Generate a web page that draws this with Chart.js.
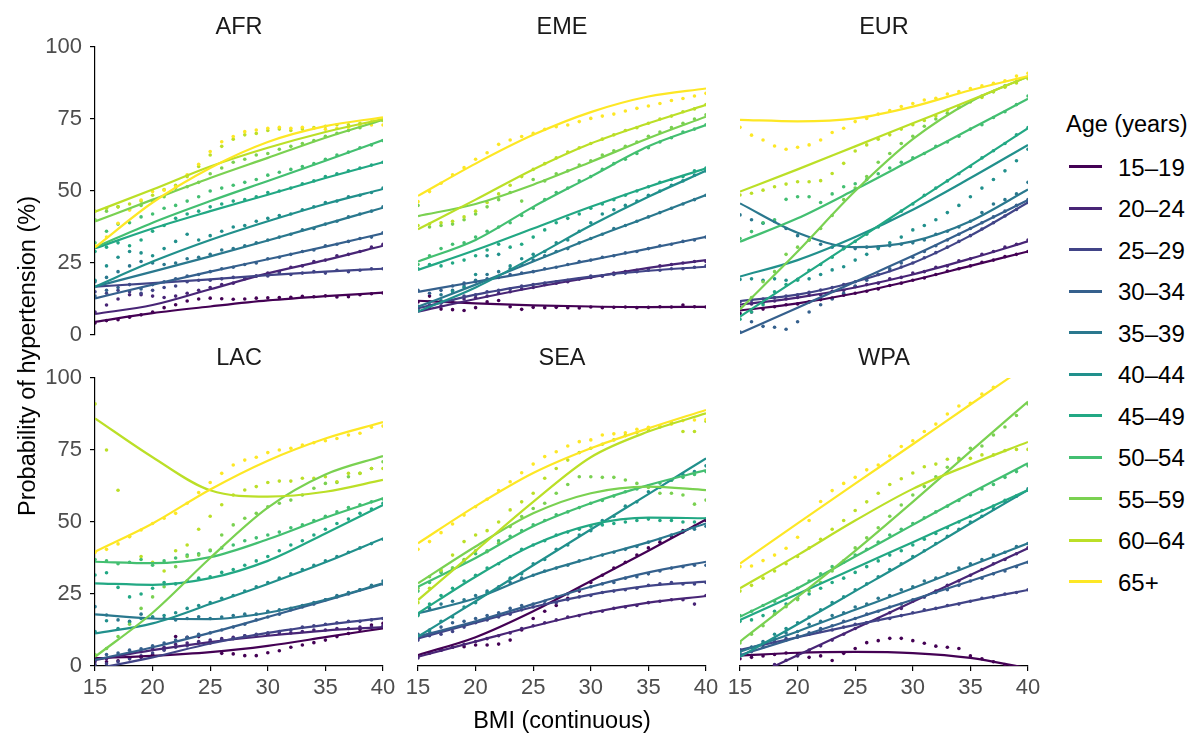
<!DOCTYPE html>
<html>
<head>
<meta charset="utf-8">
<script src="https://cdn.jsdelivr.net/npm/chart.js@4.4.0/dist/chart.umd.min.js"></script>
<style>
  body { margin: 0; background: #fff; width: 1192px; height: 734px; position: relative; overflow: hidden;
         font-family: "Liberation Sans", Arial, Helvetica, sans-serif; }
  canvas { position: absolute; }
  .strip { position: absolute; width: 288px; text-align: center; font-size: 23.5px; line-height: 24px; color: #1a1a1a; }
  .title { position: absolute; font-size: 23.5px; line-height: 24px; color: #000; white-space: nowrap; }
  .key { position: absolute; left: 1069px; width: 33px; height: 3px; }
  .keylab { position: absolute; left: 1118px; font-size: 24px; line-height: 24px; color: #000; }
</style>
</head>
<body>
<script>
// facets and groups
const regions = ['AFR', 'EME', 'EUR', 'LAC', 'SEA', 'WPA'];
const ageGroups = ['15–19', '20–24', '25–29', '30–34', '35–39', '40–44', '45–49', '50–54', '55–59', '60–64', '65+'];
const ageColors = ['#440154', '#482576', '#414487', '#35608D', '#2A788E', '#21908C',
                   '#22A884', '#43BF71', '#7AD151', '#BBDF27', '#FDE725'];

const xTicks = [15, 20, 25, 30, 35, 40];
const yTicks = [0, 25, 50, 75, 100];

// BMI values where the fitted curves were read, and where the observed points sit
const fitBmi = [15, 20, 25, 30, 35, 40];
const dotBmi = [15, 16, 17, 18, 19, 20, 21, 22, 23, 24, 25, 26, 27, 28, 29, 30, 31, 32, 33, 34, 35, 36, 37, 38, 39, 40];

// fitted probability (%) per age group, one row per group
const afrFit = [
  [4.6, 7.6, 9.9, 12, 13.5, 14.7],
  [7.3, 10.4, 15.9, 21.4, 26, 31],
  [16.8, 18, 19.3, 20.8, 22, 23],
  [12.7, 17.5, 22, 26.3, 30.7, 35.3],
  [16.8, 22, 27.3, 32.8, 38.5, 44.2],
  [16.8, 25.5, 33, 39.5, 45.5, 50.7],
  [30.1, 37, 43, 48.7, 54.5, 60],
  [30.4, 39, 46.5, 53.5, 60.5, 67.7],
  [39.4, 47, 54.5, 61.5, 68.5, 74.7],
  [42.8, 50.5, 58.5, 65, 70.5, 75],
  [30.4, 46, 58, 67, 72.5, 75.6]
];
const emeFit = [
  [11.9, 11, 10.3, 9.9, 9.7, 9.8],
  [8.1, 12.5, 16.5, 20, 23.3, 26],
  [9.3, 14, 17.5, 20.3, 22.3, 23.7],
  [15, 18.5, 22, 26, 30, 34.1],
  [9.8, 17.5, 25.5, 33.5, 41, 48.6],
  [8.1, 16.5, 27, 38, 48, 57],
  [22.6, 29.5, 37, 44.5, 51.5, 57.9],
  [25.5, 33, 44.5, 55, 65.5, 72.9],
  [41.3, 45.5, 52.2, 60.1, 68.3, 75.8],
  [36.7, 47, 57.5, 66.5, 73.5, 79.9],
  [48.3, 59.5, 69.5, 77.4, 82.8, 85.6]
];
const eurFit = [
  [8.5, 11, 14.5, 19, 24, 29],
  [10.5, 13, 16.5, 21, 26.5, 32.5],
  [11.8, 14, 18.5, 25, 34.5, 46],
  [0.6, 9.5, 18.5, 27.5, 37, 46.9],
  [45.7, 35.5, 30.5, 32.5, 39.5, 50.5],
  [20.3, 26, 34, 43.5, 54.5, 66],
  [6.4, 19.5, 32.6, 45.7, 58.8, 71.8],
  [32.4, 40.5, 50.5, 61, 71.5, 82],
  [8.9, 29, 50, 68, 81, 89.7],
  [49.8, 57.5, 65.5, 73.5, 81.5, 89.7],
  [74.7, 74.2, 75.2, 79.3, 85, 89.9]
];
const lacFit = [
  [2.7, 3.5, 4.8, 7, 10, 13.1],
  [2.1, 5.5, 8.3, 10.5, 12.3, 13.5],
  [-1, 3, 7.8, 11.5, 14.3, 16.6],
  [2.1, 6.5, 11.5, 17, 22.7, 28.5],
  [17.9, 16.5, 16.3, 18.5, 23, 28.7],
  [11.3, 14.8, 21.5, 28.5, 36, 44.3],
  [28.7, 28.2, 30.5, 36.5, 46, 55.9],
  [36.2, 35.7, 37.8, 44, 51.5, 58.2],
  [3.2, 18.5, 37.5, 55, 66.5, 72.9],
  [86, 72.5, 61, 58.8, 60.5, 64.6],
  [39.7, 49.5, 61.3, 71.3, 79, 84.7]
];
const seaFit = [
  [3.8, 10, 19, 29.5, 40, 50.9],
  [3.2, 8.5, 13.8, 18.5, 22, 24.3],
  [9.6, 15, 20.5, 24.8, 27.8, 29.3],
  [10.2, 15.5, 21.5, 27.5, 32.5, 36.2],
  [18.3, 23.5, 31.5, 37.5, 43, 49.5],
  [10.2, 22.5, 35, 47.4, 59.7, 72.1],
  [18.3, 31, 42, 49, 51.5, 51.3],
  [27.5, 37.5, 48.5, 56.5, 62.8, 68],
  [28.7, 41.5, 53, 60, 62.3, 61.1],
  [22.9, 40, 57, 72.5, 81.4, 87.7],
  [42.6, 55.5, 67, 75.6, 82.5, 88.9]
];
const wpaFit = [
  [3.6, 4.6, 4.9, 4.5, 2.8, -0.8],
  [-5.6, 3.7, 13, 22.3, 31.6, 40.9],
  [5.6, 10, 14.3, 18.3, 22.5, 26.4],
  [3.8, 10, 16.5, 23, 29.5, 36.2],
  [5, 12, 19.5, 27, 34.8, 42.6],
  [3.2, 14.5, 26, 37.5, 49.5, 61.1],
  [16, 25, 34, 43, 52, 61.1],
  [17.1, 27, 38, 49, 60, 70.4],
  [8.5, 24, 40, 57, 74.5, 91.8],
  [27, 38.5, 50.5, 61.5, 70, 77.8],
  [35.6, 49.5, 63.3, 77, 90.8, 104.5]
];

// observed probability (%) at each integer BMI
const afrDots = [
  [4.2, 5.0, 5.3, 6.2, 7.0, 8.0, 9.5, 10.5, 11.8, 12.5, 12.8, 12.6, 12.4, 12.5, 12.8, 12.9, 13.0, 13.1, 13.4, 13.3, 13.6, 13.2, 13.3, 14.0, 14.3, 14.6],
  [8.0, 10.4, 12.5, 14.0, 14.0, 13.5, 13.0, 13.5, 14.5, 15.5, 16.5, 17.5, 18.0, 19.5, 20.5, 21.5, 22.0, 23.5, 24.0, 25.5, 26.0, 27.5, 28.0, 29.0, 30.5, 31.5],
  [15.0, 14.5, 15.5, 15.0, 14.5, 15.5, 16.5, 17.0, 18.5, 19.0, 19.0, 19.5, 20.0, 19.8, 20.5, 20.5, 21.5, 21.0, 21.5, 22.0, 21.5, 22.5, 22.0, 22.5, 23.0, 23.0],
  [13.5, 15.5, 16.5, 17.5, 16.0, 17.5, 18.5, 19.5, 20.5, 21.0, 22.0, 23.0, 23.5, 24.5, 25.0, 26.5, 27.0, 28.0, 29.0, 29.5, 31.0, 31.5, 32.5, 33.5, 34.0, 35.5],
  [18.5, 20.0, 22.0, 24.0, 25.5, 25.0, 24.5, 25.0, 26.5, 27.0, 28.0, 29.5, 30.0, 31.0, 32.0, 33.0, 34.0, 35.0, 36.5, 37.0, 38.5, 39.5, 41.0, 42.0, 43.0, 44.5],
  [19.0, 24.0, 27.0, 29.0, 28.5, 27.5, 30.0, 32.5, 35.0, 33.0, 34.5, 36.0, 37.5, 38.0, 39.5, 40.5, 41.5, 42.0, 43.5, 44.5, 46.0, 46.5, 48.0, 48.5, 49.5, 51.0],
  [29.0, 30.5, 32.0, 31.0, 33.0, 36.0, 38.0, 40.5, 42.0, 43.0, 44.5, 45.5, 46.5, 47.0, 48.0, 49.5, 50.0, 51.0, 52.5, 53.5, 55.0, 56.0, 57.0, 58.0, 59.0, 60.0],
  [32.0, 36.0, 38.5, 39.0, 41.0, 42.0, 44.0, 45.0, 46.5, 48.0, 50.0, 51.0, 52.0, 53.0, 54.0, 55.5, 56.5, 57.5, 58.5, 59.5, 61.0, 62.5, 63.5, 65.0, 66.0, 67.5],
  [40.0, 43.0, 44.5, 43.5, 45.0, 46.5, 48.0, 51.0, 51.5, 53.0, 56.0, 58.0, 60.0, 61.0, 62.5, 63.0, 64.5, 65.5, 66.5, 67.5, 69.0, 70.0, 71.0, 72.0, 73.5, 74.5],
  [43.0, 44.0, 44.5, 45.5, 46.5, 48.5, 50.5, 52.0, 55.0, 58.5, 62.5, 65.5, 68.0, 69.5, 70.0, 71.0, 71.5, 71.0, 71.5, 72.0, 72.5, 73.0, 73.0, 73.5, 74.0, 74.5],
  [31.0, 34.0, 38.8, 43.4, 46.9, 49.8, 50.3, 51.5, 55.6, 59.3, 63.7, 67.1, 68.9, 70.6, 71.2, 71.8, 72.1, 71.8, 72.1, 71.8, 71.4, 71.8, 72.1, 72.6, 72.9, 72.9]
];
const emeDots = [
  [11.5, 13.5, 9.0, 8.8, 8.5, 9.5, 11.5, 12.0, 9.8, 8.9, 9.6, 9.5, 9.6, 9.5, 9.4, 9.7, 9.5, 9.6, 9.7, 9.5, 9.6, 9.8, 9.7, 10.4, 9.8, 9.7],
  [8.5, 9.5, 10.0, 11.5, 12.5, 13.0, 13.5, 14.5, 15.0, 16.0, 16.5, 17.5, 18.0, 18.5, 19.5, 20.0, 20.5, 21.5, 22.0, 22.5, 23.0, 24.0, 24.5, 25.0, 25.5, 25.5],
  [9.0, 10.5, 11.0, 12.0, 13.5, 14.0, 15.0, 15.5, 16.0, 17.0, 17.5, 18.0, 18.5, 19.0, 19.5, 20.5, 20.5, 21.0, 21.5, 22.0, 22.5, 22.5, 23.0, 23.0, 23.5, 24.0],
  [15.5, 14.5, 15.5, 17.0, 18.0, 18.5, 19.5, 20.0, 21.0, 21.5, 22.0, 23.0, 23.5, 24.5, 25.5, 26.0, 27.0, 27.5, 28.5, 29.0, 30.0, 31.0, 31.5, 32.5, 33.0, 34.0],
  [10.0, 11.5, 14.0, 15.5, 17.0, 19.0, 21.0, 22.0, 23.0, 24.5, 26.0, 27.5, 29.0, 30.0, 32.0, 33.5, 35.0, 37.0, 38.0, 39.5, 41.0, 42.5, 44.0, 45.5, 47.0, 48.5],
  [8.5, 10.0, 12.0, 15.0, 16.5, 21.0, 27.5, 28.0, 24.0, 26.5, 28.0, 29.0, 32.0, 33.0, 36.0, 39.0, 42.0, 43.5, 45.0, 46.5, 48.5, 50.0, 52.0, 53.5, 55.5, 57.0],
  [23.0, 24.5, 24.0, 25.0, 26.0, 27.5, 29.5, 31.5, 30.5, 31.5, 34.0, 36.5, 39.0, 40.5, 42.0, 44.0, 45.5, 47.0, 48.5, 50.0, 51.5, 53.0, 54.0, 55.0, 57.0, 58.0],
  [24.5, 27.5, 30.0, 31.5, 32.0, 34.0, 36.0, 37.5, 39.0, 41.5, 44.0, 47.0, 49.5, 51.0, 53.5, 55.0, 57.5, 59.5, 61.0, 63.0, 65.0, 67.0, 68.5, 70.5, 71.5, 73.0],
  [45.0, 37.5, 38.0, 38.5, 40.0, 42.0, 44.5, 47.0, 49.5, 46.5, 54.0, 53.5, 56.0, 57.0, 59.0, 60.5, 62.5, 64.0, 65.5, 67.0, 69.0, 70.5, 72.0, 73.5, 75.0, 76.5],
  [38.0, 38.5, 39.0, 39.5, 41.0, 43.0, 46.0, 49.0, 52.0, 55.0, 57.5, 59.5, 61.5, 63.5, 65.0, 66.5, 68.0, 69.5, 71.0, 72.0, 73.5, 75.0, 76.0, 77.5, 78.5, 80.0],
  [46.3, 49.8, 52.7, 55.6, 58.1, 61.0, 63.3, 66.2, 67.7, 68.9, 70.0, 71.4, 72.3, 72.9, 74.1, 75.2, 76.0, 76.7, 77.8, 78.7, 79.5, 80.4, 81.4, 82.1, 83.0, 83.9]
];
const eurDots = [
  [7.5, 8.0, 9.0, 9.8, 10.5, 10.8, 11.5, 12.3, 12.8, 13.8, 14.5, 15.2, 16.0, 17.2, 18.0, 19.0, 19.8, 21.0, 22.2, 23.0, 24.0, 25.2, 26.0, 27.2, 28.0, 29.0],
  [9.5, 10.8, 11.2, 11.8, 12.5, 13.0, 13.8, 14.0, 15.2, 15.5, 16.8, 17.5, 18.0, 19.5, 20.0, 21.5, 22.0, 23.5, 24.0, 25.8, 26.5, 28.0, 29.0, 30.5, 31.5, 33.0],
  [11.5, 12.0, 12.5, 13.0, 13.5, 14.0, 14.8, 15.6, 16.5, 17.5, 18.5, 19.7, 21.0, 22.3, 23.6, 25.0, 26.8, 28.6, 30.5, 32.5, 34.5, 36.8, 39.0, 41.3, 43.6, 46.0],
  [1.0, 4.6, 3.0, 2.7, 2.0, 4.6, 8.0, 10.5, 12.5, 14.5, 17.0, 19.0, 21.0, 23.0, 25.0, 27.0, 29.0, 31.0, 33.0, 35.0, 37.0, 39.0, 41.0, 43.0, 45.0, 47.0],
  [41.7, 40.0, 38.8, 39.4, 37.0, 34.5, 33.0, 31.5, 30.5, 30.0, 30.0, 30.5, 30.5, 31.0, 31.5, 32.0, 33.0, 35.0, 36.0, 37.5, 39.5, 42.5, 45.5, 47.0, 49.0, 53.0],
  [19.3, 19.5, 19.0, 19.5, 19.0, 19.3, 19.5, 21.0, 22.6, 23.7, 26.0, 28.0, 30.0, 32.0, 34.0, 36.5, 38.0, 40.0, 42.5, 45.0, 48.0, 51.0, 54.0, 57.0, 60.5, 64.5],
  [5.5, 8.0, 10.5, 15.0, 17.5, 19.0, 22.5, 24.5, 27.0, 30.0, 32.5, 35.0, 37.5, 40.0, 43.0, 45.5, 48.5, 51.0, 53.5, 56.0, 58.5, 61.5, 64.0, 66.5, 69.5, 72.0],
  [33.5, 35.9, 39.0, 40.0, 47.1, 48.0, 48.0, 46.0, 49.0, 51.5, 52.5, 54.0, 56.0, 58.0, 60.0, 61.5, 63.0, 65.5, 67.0, 69.0, 71.5, 73.0, 75.5, 77.5, 80.0, 83.0],
  [9.0, 13.0, 18.5, 22.0, 28.0, 30.5, 33.0, 37.0, 41.5, 47.0, 51.0, 55.0, 60.0, 63.0, 66.5, 69.0, 72.5, 75.0, 77.0, 79.0, 81.0, 83.0, 84.5, 86.5, 88.0, 89.5],
  [48.6, 49.2, 50.3, 51.5, 52.4, 53.2, 53.2, 53.6, 56.1, 59.6, 63.9, 66.0, 68.0, 69.5, 71.5, 73.0, 74.5, 76.0, 78.0, 79.5, 81.0, 82.5, 84.5, 86.0, 87.5, 89.0],
  [72.1, 69.4, 67.7, 65.6, 64.5, 65.2, 66.0, 67.7, 70.3, 71.8, 74.1, 75.2, 76.7, 77.9, 79.3, 80.4, 81.6, 82.2, 83.7, 84.5, 85.6, 86.5, 87.4, 88.3, 89.9, 90.9]
];
const lacDots = [
  [2.0, 1.5, 1.8, 2.5, 3.0, 4.0, 6.0, 10.2, 10.0, 10.2, 8.0, 4.4, 4.2, 3.6, 3.6, 4.6, 5.3, 6.5, 7.3, 8.1, 9.0, 10.2, 11.3, 12.7, 14.2, 14.8],
  [1.5, 2.5, 3.5, 4.5, 5.0, 6.0, 6.5, 7.5, 8.0, 8.5, 9.0, 9.5, 10.0, 10.5, 10.5, 11.0, 11.5, 11.5, 12.0, 12.5, 12.5, 13.0, 13.0, 13.5, 13.5, 14.0],
  [0.5, 0.8, 1.5, 2.5, 3.5, 4.5, 5.5, 6.5, 7.0, 8.0, 8.5, 9.0, 9.5, 10.5, 11.0, 11.5, 12.0, 12.5, 13.5, 14.0, 14.5, 15.0, 15.5, 15.5, 16.0, 16.5],
  [2.5, 4.0, 4.5, 5.5, 6.0, 7.0, 8.0, 9.0, 10.0, 11.0, 11.5, 12.5, 13.5, 14.5, 16.0, 17.0, 18.0, 19.5, 20.5, 21.5, 23.0, 24.0, 25.0, 26.5, 27.5, 28.5],
  [20.6, 17.7, 16.0, 15.5, 18.0, 17.0, 16.5, 16.0, 16.5, 17.1, 16.5, 17.0, 17.5, 18.0, 18.0, 19.0, 19.5, 20.0, 21.0, 22.0, 23.0, 24.5, 25.5, 26.5, 28.0, 29.5],
  [12.0, 15.7, 13.0, 15.0, 16.5, 17.0, 17.5, 18.5, 20.0, 21.0, 22.0, 23.5, 24.5, 26.0, 27.5, 29.0, 30.5, 32.0, 33.5, 35.0, 36.5, 38.0, 39.5, 41.0, 42.5, 44.0],
  [31.6, 32.4, 27.3, 24.0, 25.0, 27.0, 29.0, 28.5, 29.5, 30.5, 31.0, 32.5, 33.5, 35.0, 36.5, 38.0, 40.0, 42.0, 43.5, 45.5, 47.5, 49.5, 51.0, 53.0, 54.5, 56.5],
  [37.0, 36.5, 35.5, 36.0, 37.0, 35.0, 36.5, 37.5, 38.5, 39.0, 40.0, 41.0, 42.0, 43.5, 44.5, 45.5, 46.5, 48.0, 49.0, 50.5, 52.0, 53.5, 55.0, 56.0, 57.0, 58.0],
  [4.0, 6.1, 10.2, 14.5, 20.0, 24.0, 27.5, 34.5, 38.0, 38.5, 40.3, 45.5, 49.0, 51.3, 53.0, 55.3, 56.5, 57.6, 59.4, 61.7, 63.4, 63.7, 65.7, 66.9, 68.6, 70.9],
  [91.0, 75.0, 61.0, 45.0, 38.0, 36.0, 33.0, 40.0, 42.0, 47.5, 52.0, 56.0, 59.4, 61.1, 62.3, 63.7, 64.2, 64.2, 65.2, 65.2, 65.7, 64.0, 66.9, 66.9, 68.6, 68.6],
  [39.4, 40.5, 42.4, 44.9, 47.2, 49.5, 51.3, 53.0, 56.5, 60.2, 63.7, 66.9, 69.8, 71.5, 72.5, 74.1, 75.0, 75.6, 76.7, 77.5, 78.2, 79.0, 80.2, 80.8, 82.9, 83.3]
];
const seaDots = [
  [3.5, 4.5, 5.5, 6.5, 6.7, 7.3, 7.3, 7.6, 9.0, 12.5, 16.5, 19.0, 21.0, 23.5, 26.0, 29.0, 31.5, 34.0, 36.0, 38.5, 41.0, 43.0, 45.0, 47.0, 48.5, 50.5],
  [2.8, 4.5, 5.5, 6.5, 7.5, 8.5, 9.5, 10.5, 11.5, 13.0, 14.0, 15.0, 16.0, 17.0, 17.5, 18.5, 19.0, 20.0, 20.5, 21.0, 22.0, 22.5, 23.0, 23.0, 21.5, 24.5],
  [9.0, 10.5, 11.0, 12.0, 13.5, 15.0, 16.0, 17.0, 18.0, 19.5, 20.5, 21.5, 22.0, 23.0, 24.0, 24.5, 25.5, 26.0, 26.5, 27.0, 28.0, 28.5, 29.0, 28.5, 28.5, 29.0],
  [11.0, 12.5, 13.5, 15.0, 15.5, 16.5, 17.5, 18.5, 20.0, 21.0, 21.5, 22.5, 24.0, 25.0, 26.5, 27.5, 28.5, 29.0, 30.5, 31.0, 32.0, 33.0, 34.0, 34.5, 35.0, 35.0],
  [18.0, 20.0, 21.5, 22.5, 23.0, 24.5, 26.0, 27.5, 29.0, 30.5, 31.5, 33.0, 34.0, 35.0, 36.5, 37.5, 38.5, 39.5, 40.5, 41.5, 43.0, 44.0, 45.5, 46.5, 47.5, 48.5],
  [10.5, 12.0, 15.5, 17.0, 20.5, 22.0, 25.5, 27.0, 30.5, 32.0, 35.5, 37.0, 40.5, 42.0, 45.5, 47.0, 50.5, 52.0, 55.5, 57.0, 60.5, 62.0, 64.5, 66.5, 67.5, 69.5],
  [17.5, 21.5, 24.5, 27.0, 29.5, 31.5, 34.0, 35.5, 38.0, 40.5, 42.0, 43.5, 45.5, 46.5, 47.5, 48.5, 49.0, 49.5, 50.0, 50.5, 51.0, 50.5, 50.5, 50.0, 50.0, 51.0],
  [26.0, 29.0, 32.5, 34.0, 36.5, 39.0, 40.0, 43.5, 45.0, 47.0, 49.0, 50.5, 52.5, 53.5, 55.0, 56.5, 57.5, 59.0, 60.5, 61.5, 62.5, 63.5, 64.5, 65.5, 66.5, 67.5],
  [27.0, 31.0, 33.0, 34.0, 37.0, 40.0, 39.7, 42.6, 48.4, 51.9, 54.7, 56.5, 60.0, 63.0, 65.7, 65.7, 65.5, 65.5, 64.6, 63.4, 62.0, 60.0, 60.0, 59.4, 56.2, 57.6],
  [22.0, 27.0, 33.3, 38.5, 43.2, 45.5, 47.0, 50.0, 54.2, 57.0, 60.0, 65.2, 68.6, 71.5, 74.1, 75.6, 77.0, 78.5, 80.0, 81.0, 82.0, 83.0, 84.5, 81.4, 81.4, 85.0],
  [40.5, 43.2, 46.3, 49.3, 52.4, 55.3, 57.9, 60.9, 64.0, 67.1, 70.1, 72.7, 74.4, 76.4, 77.9, 78.5, 80.2, 80.6, 81.0, 82.2, 82.9, 83.3, 84.0, 85.2, 85.4, 85.6]
];
const wpaDots = [
  [2.5, 3.0, 3.5, 4.0, 4.5, 4.0, 3.0, 3.5, 1.9, 4.4, 6.1, 8.1, 8.8, 9.6, 9.6, 8.8, 7.9, 6.9, 6.5, 6.1, 3.5, 2.5, 1.5, 0.5, -0.5, -1.0],
  [-5.0, -3.5, -1.5, 0.5, 2.0, 3.5, 5.5, 7.0, 9.0, 11.0, 13.0, 15.0, 16.5, 18.5, 20.0, 22.5, 24.0, 26.0, 28.0, 29.5, 31.5, 33.5, 35.5, 37.0, 39.0, 41.0],
  [5.5, 6.5, 7.5, 8.5, 9.5, 10.0, 11.0, 12.0, 12.5, 13.5, 14.5, 15.0, 16.0, 16.5, 17.5, 18.5, 19.5, 20.0, 21.0, 21.5, 22.5, 23.5, 24.0, 25.0, 25.5, 26.5],
  [4.0, 5.0, 6.5, 8.0, 9.0, 10.5, 11.5, 13.0, 14.0, 15.5, 16.5, 18.0, 19.0, 20.5, 21.5, 23.0, 24.0, 25.5, 26.5, 28.0, 29.5, 30.5, 32.0, 33.0, 34.5, 36.0],
  [5.5, 6.5, 8.5, 9.5, 11.5, 12.0, 14.5, 15.5, 17.5, 18.5, 20.5, 21.5, 23.5, 24.5, 26.5, 27.5, 29.5, 30.5, 32.0, 34.0, 35.5, 37.0, 38.5, 39.5, 41.5, 42.5],
  [4.5, 6.5, 8.0, 11.0, 13.0, 15.0, 17.0, 19.5, 22.0, 24.0, 26.5, 28.5, 31.0, 33.5, 35.5, 38.0, 40.0, 42.5, 45.0, 47.5, 50.0, 52.0, 54.5, 57.0, 59.0, 61.5],
  [15.5, 16.0, 17.5, 19.0, 21.5, 23.5, 25.0, 27.0, 29.0, 30.5, 32.5, 34.5, 36.5, 38.5, 40.0, 42.0, 44.0, 46.0, 48.0, 50.0, 52.0, 54.0, 55.5, 57.5, 59.0, 61.0],
  [17.5, 19.0, 21.0, 22.5, 24.5, 27.0, 29.5, 32.0, 34.5, 36.0, 38.5, 40.5, 43.0, 45.5, 47.5, 49.5, 51.5, 53.5, 55.5, 57.5, 59.5, 61.5, 63.0, 65.5, 67.5, 69.5],
  [8.0, 11.0, 14.0, 18.0, 20.6, 23.0, 26.0, 29.0, 33.0, 36.5, 41.0, 44.5, 48.0, 52.0, 55.9, 59.4, 62.3, 65.7, 69.0, 72.1, 75.6, 76.4, 80.2, 83.0, 87.0, 91.0],
  [26.0, 28.0, 30.5, 33.0, 35.5, 38.0, 41.0, 44.0, 47.5, 50.5, 54.0, 57.0, 60.0, 63.0, 65.0, 67.0, 69.2, 70.1, 71.8, 71.5, 72.1, 73.3, 73.3, 74.8, 75.2, 75.2],
  [34.5, 34.7, 36.6, 38.5, 40.9, 44.7, 50.5, 57.1, 60.9, 63.4, 65.5, 68.1, 69.8, 72.9, 76.2, 78.2, 81.4, 84.0, 87.5, 90.3, 91.2, 94.4, 96.8, 101, 103, 105]
];

const regionFits = [afrFit, emeFit, eurFit, lacFit, seaFit, wpaFit];
const regionDots = [afrDots, emeDots, eurDots, lacDots, seaDots, wpaDots];

// panel geometry (plot area of each facet)
const PANEL = 288;
const panelLeft = [95, 418, 740];
const panelTop = [47, 378];

Chart.defaults.font.family = '"Liberation Sans", Arial, Helvetica, sans-serif';
Chart.defaults.font.size = 22;
Chart.defaults.color = '#4d4d4d';

function addText(cls, text, css) {
  const d = document.createElement('div');
  d.className = cls;
  d.textContent = text;
  Object.assign(d.style, css);
  document.body.appendChild(d);
  return d;
}

regions.forEach((name, p) => {
  const col = p % 3, row = Math.floor(p / 3);
  const showY = col === 0, showX = row === 1;
  // room around the plot area: axis boxes where shown, slack for label overhang elsewhere
  const padL = showY ? 60 : 20, padR = 20, padT = 24, padB = showX ? 40 : 24;

  const canvas = document.createElement('canvas');
  canvas.width = PANEL + padL + padR;
  canvas.height = PANEL + padT + padB;
  canvas.style.left = (panelLeft[col] - padL) + 'px';
  canvas.style.top = (panelTop[row] - padT) + 'px';
  document.body.appendChild(canvas);

  const datasets = [];
  ageGroups.forEach((age, g) => {
    datasets.push({
      label: age,
      data: fitBmi.map((x, i) => ({ x: x, y: regionFits[p][g][i] })),
      showLine: true,
      borderColor: ageColors[g],
      borderWidth: 2.2,
      pointRadius: 0,
      cubicInterpolationMode: 'monotone',
      order: 10 - g
    });
    datasets.push({
      label: age + ' observed',
      data: dotBmi.map((x, i) => ({ x: x, y: regionDots[p][g][i] })),
      showLine: false,
      backgroundColor: ageColors[g],
      borderWidth: 0,
      pointRadius: 1.8,
      order: 30 - g
    });
  });

  new Chart(canvas, {
    type: 'scatter',
    data: { datasets: datasets },
    options: {
      responsive: false,
      animation: false,
      devicePixelRatio: 1,
      events: [],
      layout: { padding: { left: showY ? 0 : padL, right: padR, top: padT, bottom: showX ? 0 : padB } },
      plugins: { legend: { display: false }, tooltip: { enabled: false } },
      scales: {
        x: {
          type: 'linear', min: 15, max: 40,
          display: showX,
          afterBuildTicks: s => { s.ticks = xTicks.map(v => ({ value: v })); },
          afterFit: s => { if (showX) s.height = 40; },
          border: { display: true, color: '#000', width: 1.2 },
          grid: { display: true, drawOnChartArea: false, drawTicks: true, tickLength: 5, color: '#000', lineWidth: 1.2 },
          ticks: { padding: 4, color: '#4d4d4d', maxRotation: 0 }
        },
        y: {
          type: 'linear', min: 0, max: 100,
          display: showY,
          afterBuildTicks: s => { s.ticks = yTicks.map(v => ({ value: v })); },
          afterFit: s => { if (showY) s.width = 60; },
          border: { display: true, color: '#000', width: 1.2 },
          grid: { display: true, drawOnChartArea: false, drawTicks: true, tickLength: 5, color: '#000', lineWidth: 1.2 },
          ticks: { padding: 8, color: '#4d4d4d' }
        }
      }
    }
  });

  addText('strip', name, { left: panelLeft[col] + 'px', top: (row === 0 ? 14 : 345) + 'px' });
});

// axis titles
addText('title', 'BMI (continuous)', { left: '562px', top: '708px', transform: 'translateX(-50%)' });
addText('title', 'Probability of hypertension (%)',
        { left: '27px', top: '356px', transform: 'translate(-50%, -50%) rotate(-90deg)' });

// legend
addText('title', 'Age (years)', { left: '1066px', top: '112px' });
ageGroups.forEach((age, g) => {
  const cy = 166.7 + g * 41.5;
  const key = document.createElement('div');
  key.className = 'key';
  key.style.top = (cy - 1.5) + 'px';
  key.style.background = ageColors[g];
  document.body.appendChild(key);
  addText('keylab', age, { top: (cy - 11) + 'px' });
});
</script>
</body>
</html>
